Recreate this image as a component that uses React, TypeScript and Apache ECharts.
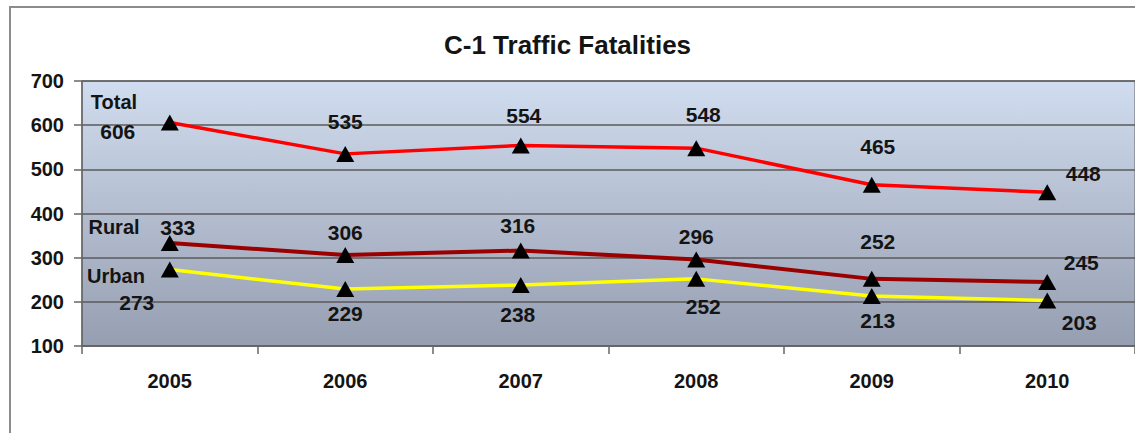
import React, { useEffect, useRef } from "react";
import * as echarts from "echarts";

const years = ["2005", "2006", "2007", "2008", "2009", "2010"];
const totalValues = [606, 535, 554, 548, 465, 448];
const ruralValues = [333, 306, 316, 296, 252, 245];
const urbanValues = [273, 229, 238, 252, 213, 203];
const yTicks = { min: 100, max: 700, interval: 100 };
const titleText = "C-1 Traffic Fatalities";

// label offsets (px) from each point, per series
const totalLabelOffsets = [[-52, 9], [0, -32], [3, -30], [7, -34], [6, -38], [36, -19]];
const ruralLabelOffsets = [[8, -16], [0, -23], [-3, -25], [0, -23], [6, -37], [34, -19]];
const urbanLabelOffsets = [[-33, 33], [0, 24], [-3, 29], [7, 28], [6, 24], [32, 22]];

const FONT = "'Liberation Sans', Arial, sans-serif";
const TEXT_COLOR = "#141414";

function buildData(values: number[], offsets: number[][]) {
  return values.map((v, i) => ({
    value: v,
    label: { offset: offsets[i] },
  }));
}

function makeSeries(name: string, values: number[], offsets: number[][], color: string, width: number) {
  return {
    name,
    type: "line",
    data: buildData(values, offsets),
    symbol: "triangle",
    symbolSize: [18, 16],
    itemStyle: { color: "#000000" },
    lineStyle: { color, width },
    z: 3,
    label: {
      show: true,
      position: "inside",
      align: "center",
      verticalAlign: "middle",
      fontFamily: FONT,
      fontWeight: "bold",
      fontSize: 21,
      color: TEXT_COLOR,
    },
  };
}

export default function App() {
  const ref = useRef<HTMLDivElement>(null);
  useEffect(() => {
    if (!ref.current) return;
    const chart = echarts.init(ref.current, undefined, { renderer: "svg" });
    chart.setOption({
      animation: false,
      backgroundColor: "#ffffff",
      title: {
        text: titleText,
        left: "center",
        top: 27,
        textStyle: { fontFamily: FONT, fontWeight: "bold", fontSize: 26, color: TEXT_COLOR },
      },
      graphic: [
        {
          type: "rect",
          shape: { x: 10, y: 7, width: 1300, height: 600 },
          style: { fill: "none", stroke: "#8c8c8c", lineWidth: 2 },
          z: -1,
          silent: true,
        },
        {
          type: "text",
          x: 114, y: 102,
          style: { text: "Total", align: "center", verticalAlign: "middle", font: `bold 20px ${FONT}`, fill: TEXT_COLOR },
          z: 10,
        },
        {
          type: "text",
          x: 114, y: 227,
          style: { text: "Rural", align: "center", verticalAlign: "middle", font: `bold 20px ${FONT}`, fill: TEXT_COLOR },
          z: 10,
        },
        {
          type: "text",
          x: 116, y: 276,
          style: { text: "Urban", align: "center", verticalAlign: "middle", font: `bold 20px ${FONT}`, fill: TEXT_COLOR },
          z: 10,
        },
      ],
      grid: {
        left: 82,
        top: 81,
        right: 0,
        bottom: 433 - 346,
        show: true,
        borderColor: "#666666",
        borderWidth: 1,
        backgroundColor: new echarts.graphic.LinearGradient(0, 0, 0, 1, [
          { offset: 0, color: "#d0dcef" },
          { offset: 0.5, color: "#b4bdd0" },
          { offset: 1, color: "#969eb1" },
        ]),
      },
      xAxis: {
        type: "category",
        data: years,
        boundaryGap: true,
        axisLine: { show: true, lineStyle: { color: "#666666", width: 1.5 } },
        axisTick: { show: true, length: 8, lineStyle: { color: "#666666", width: 1.5 } },
        axisLabel: { margin: 25, fontFamily: FONT, fontWeight: "bold", fontSize: 20, color: TEXT_COLOR },
        splitLine: { show: false },
      },
      yAxis: {
        type: "value",
        min: yTicks.min,
        max: yTicks.max,
        interval: yTicks.interval,
        axisLine: { show: true, lineStyle: { color: "#666666", width: 1.5 } },
        axisTick: { show: true, length: 8, lineStyle: { color: "#666666", width: 1.5 } },
        axisLabel: { margin: 18, fontFamily: FONT, fontWeight: "bold", fontSize: 20, color: TEXT_COLOR },
        splitLine: { show: true, lineStyle: { color: "#5a5a5a", width: 1.5 } },
      },
      series: [
        makeSeries("Total", totalValues, totalLabelOffsets, "#ff0000", 3.5),
        makeSeries("Rural", ruralValues, ruralLabelOffsets, "#9a0000", 4),
        makeSeries("Urban", urbanValues, urbanLabelOffsets, "#ffff00", 3.5),
      ],
    });
    return () => chart.dispose();
  }, []);
  return (
    <div
      ref={ref}
      style={{ position: "fixed", left: 0, top: 0, width: 1135, height: 433 }}
    />
  );
}
